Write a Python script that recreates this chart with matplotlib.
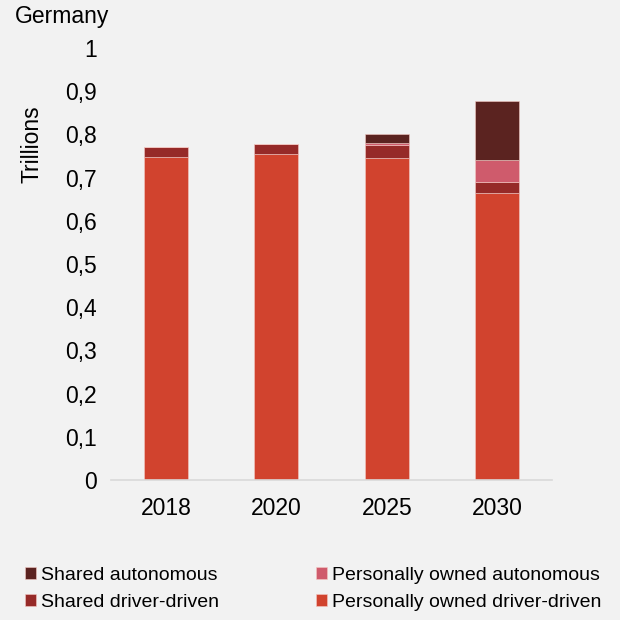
import matplotlib.pyplot as plt
import numpy as np

plt.rcParams['font.family'] = ['Liberation Sans', 'DejaVu Sans']

# datos (billones)
anios = ['2018', '2020', '2025', '2030']
propio_conductor = [0.748, 0.755, 0.746, 0.664]
compartido_conductor = [0.023, 0.023, 0.029, 0.025]
propio_autonomo = [0.0, 0.0, 0.004, 0.052]
compartido_autonomo = [0.0, 0.0, 0.023, 0.136]

y_ticks = [0, 0.1, 0.2, 0.3, 0.4, 0.5, 0.6, 0.7, 0.8, 0.9, 1]

colores = {
    'Personally owned driver-driven': '#d1432e',
    'Shared driver-driven': '#962a28',
    'Personally owned autonomous': '#cf5b6c',
    'Shared autonomous': '#5b2320',
}

fondo = '#f2f2f2'
fig = plt.figure(figsize=(6.2, 6.2), dpi=100, facecolor=fondo)
ax = fig.add_axes([0.1786, 0.2258, 0.7125, 0.6968], facecolor=fondo)

x = np.arange(len(anios))
series = [
    ('Personally owned driver-driven', propio_conductor),
    ('Shared driver-driven', compartido_conductor),
    ('Personally owned autonomous', propio_autonomo),
    ('Shared autonomous', compartido_autonomo),
]
base = np.zeros(len(anios))
barras = {}
for nombre, valores in series:
    barras[nombre] = ax.bar(x, valores, 0.4, bottom=base, color=colores[nombre],
                            edgecolor='#f4c9c4', linewidth=0.4, label=nombre)
    base = base + np.array(valores)

ax.set_xlim(-0.5, len(anios) - 0.5)
ax.set_ylim(0, 1)
ax.set_xticks(x)
ax.set_xticklabels(anios, fontsize=16.5)
ax.set_yticks(y_ticks)
ax.set_yticklabels([f'{v:g}'.replace('.', ',') for v in y_ticks], fontsize=16.5)
ax.tick_params(length=0)
ax.tick_params(axis='x', pad=12)
ax.tick_params(axis='y', pad=10)
for lado in ['top', 'right', 'left']:
    ax.spines[lado].set_visible(False)
ax.spines['bottom'].set_color('#d9d9d9')
ax.spines['bottom'].set_linewidth(1.2)

fig.text(15 / 620, 1 - 17 / 620, 'Germany', fontsize=16.5, va='center', ha='left')
fig.text(32 / 620, 1 - 144 / 620, 'Trillions', fontsize=16.5, rotation=90,
         va='center', ha='center')

orden = ['Shared autonomous', 'Shared driver-driven',
         'Personally owned autonomous', 'Personally owned driver-driven']
fig.legend([barras[n] for n in orden], orden, ncol=2, loc='center left',
           bbox_to_anchor=(0.025, 1 - 589 / 620), frameon=False, fontsize=14,
           handlelength=0.55, handleheight=0.55, handletextpad=0.25,
           columnspacing=5.0, labelspacing=0.5, borderpad=0)

fig.savefig('out.png', dpi=100, facecolor=fondo)
